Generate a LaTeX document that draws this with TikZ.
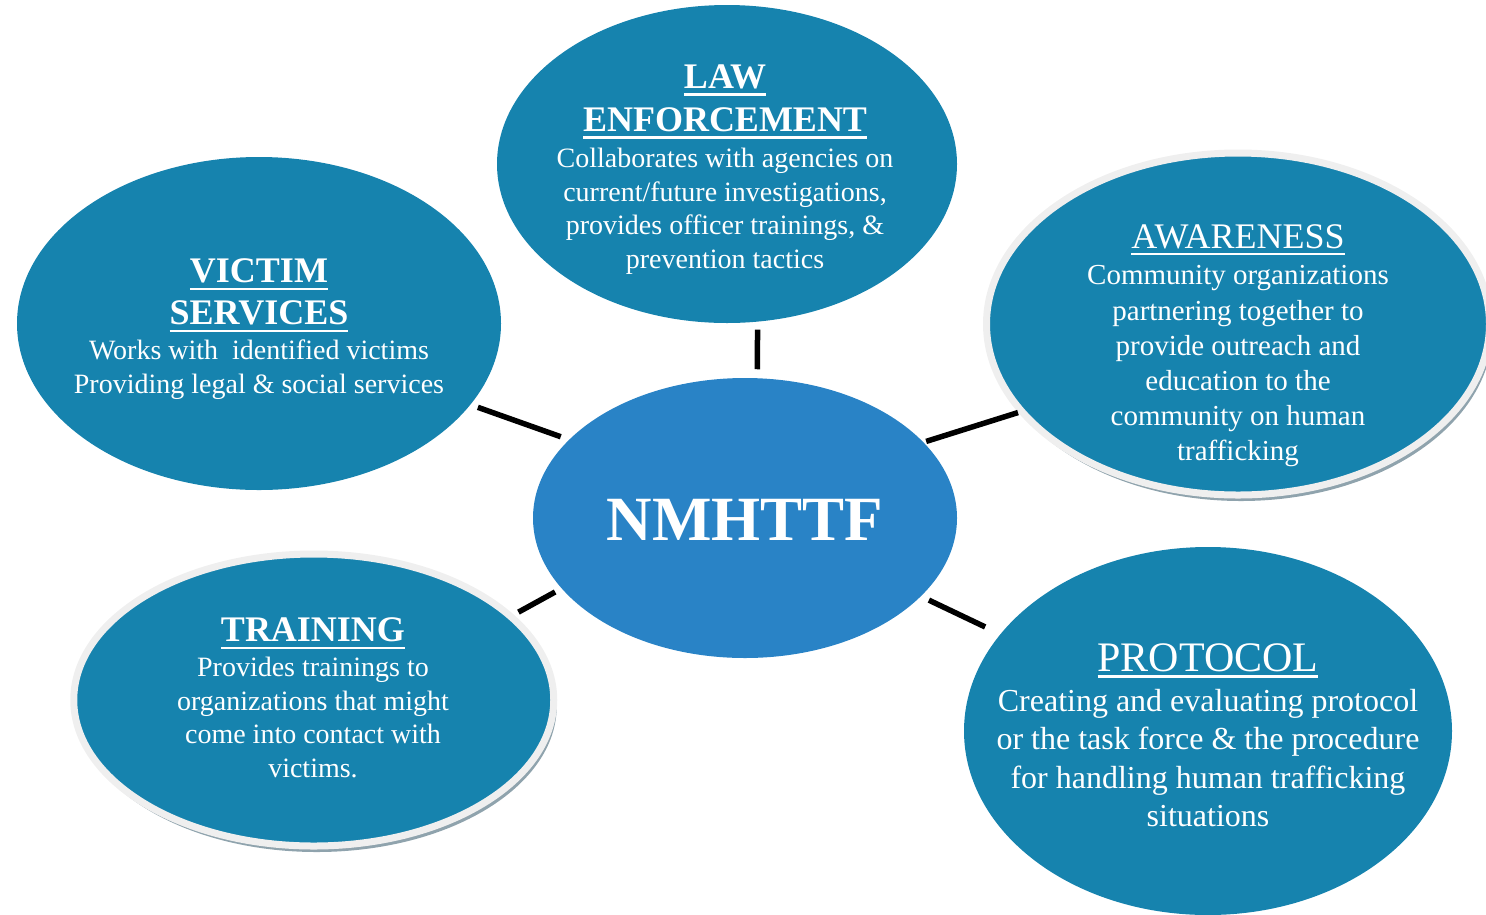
\documentclass[tikz,border=0pt]{standalone}
\usepackage{fontspec}
\setmainfont{Liberation Serif}
\usetikzlibrary{shapes.geometric, shadows}

\definecolor{bubbleblue}{RGB}{22,131,174}
\definecolor{hubblue}{RGB}{41,131,198}
\definecolor{rimgray}{RGB}{239,239,239}
\definecolor{shadowgray}{RGB}{143,163,173}

% underlined headings
\newcommand{\ulhead}[2]{\sbox0{#2}\rlap{\rule[-#1]{\wd0}{2.7pt}}\usebox0}
\newcommand{\boldhead}[1]{{\fontsize{36}{41}\selectfont\bfseries\ulhead{7.5pt}{#1}}}
\newcommand{\plainhead}[2]{{\fontsize{#1}{#1}\selectfont\ulhead{6.5pt}{#2}}}

\begin{document}
\begin{tikzpicture}[x=1pt, y=-1pt,
    bubble/.style={ellipse, fill=bubbleblue, inner sep=0pt, outer sep=0pt},
    rimmed/.style={bubble, draw=rimgray, line width=7pt,
        drop shadow={shadow xshift=3pt, shadow yshift=-6pt, fill=shadowgray, opacity=1}},
    hub/.style={ellipse, fill=hubblue, inner sep=0pt, outer sep=0pt},
    txt/.style={text=white, align=center, inner sep=0pt, font=\fontsize{28}{33.5}\selectfont},
    link/.style={line width=5.5pt}
]
\useasboundingbox (0,0) rectangle (1486,914);
\clip (0,0) rectangle (1486,914);

% Bubbles
\node[hub, minimum width=424pt, minimum height=280pt] (hub) at (745,518) {};
\node[bubble, minimum width=460pt, minimum height=318pt] (law) at (727,164) {};
\node[bubble, minimum width=484pt, minimum height=333pt] (victim) at (259,323.5) {};
\node[rimmed, minimum width=503pt, minimum height=342pt] (aware) at (1238,324) {};
\node[rimmed, minimum width=480pt, minimum height=292pt] (train) at (313.75,700) {};
\node[bubble, minimum width=488pt, minimum height=368pt] (proto) at (1208,731) {};

% Links
\draw[link, shorten <=9pt, shorten >=8pt] (hub.85.4) -- (law.-79.8);
\draw[link, shorten <=9pt, shorten >=8pt] (hub.156.4) -- (victim.-21.2);
\draw[link, shorten <=3pt, shorten >=4pt] (hub.23) -- (aware.-158.5);
\draw[link, shorten <=7.5pt, shorten >=9pt] (hub.-159.7) -- (train.23.3);
\draw[link, shorten <=9pt, shorten >=17pt] (hub.-24.4) -- (proto.155);

% Texts
\node[txt, font=\fontsize{63}{70}\selectfont\bfseries] (hubtext) at (745,520) {NMHTTF};
\node[txt] (lawtext) at (725,169.5) {\boldhead{LAW}\\[9pt]\boldhead{ENFORCEMENT}\\[3pt]
    Collaborates with agencies on\\current/future investigations,\\
    provides officer trainings, \&\\prevention tactics};
\node[txt, font=\fontsize{28}{34}\selectfont] (victimtext) at (259,329.5) {\boldhead{VICTIM}\\[8pt]\boldhead{SERVICES}\\[1pt]
    Works with~ identified victims\\Providing legal \& social services};
\node[txt, font=\fontsize{29}{35.2}\selectfont] (awaretext) at (1238,346) {\plainhead{36}{AWARENESS}\\[1pt]
    Community organizations\\partnering together to\\provide outreach and\\
    education to the\\community on human\\trafficking};
\node[txt, font=\fontsize{28}{33.7}\selectfont] (traintext) at (313,698) {\boldhead{TRAINING}\\[1pt]
    Provides trainings to\\organizations that might\\come into contact with\\victims.};
\node[txt, font=\fontsize{32}{38.5}\selectfont] (prototext) at (1208,735) {\plainhead{42}{PROTOCOL}\\[1.5pt]
    Creating and evaluating protocol\\or the task force \& the procedure\\
    for handling human trafficking\\situations};

\end{tikzpicture}
\end{document}
